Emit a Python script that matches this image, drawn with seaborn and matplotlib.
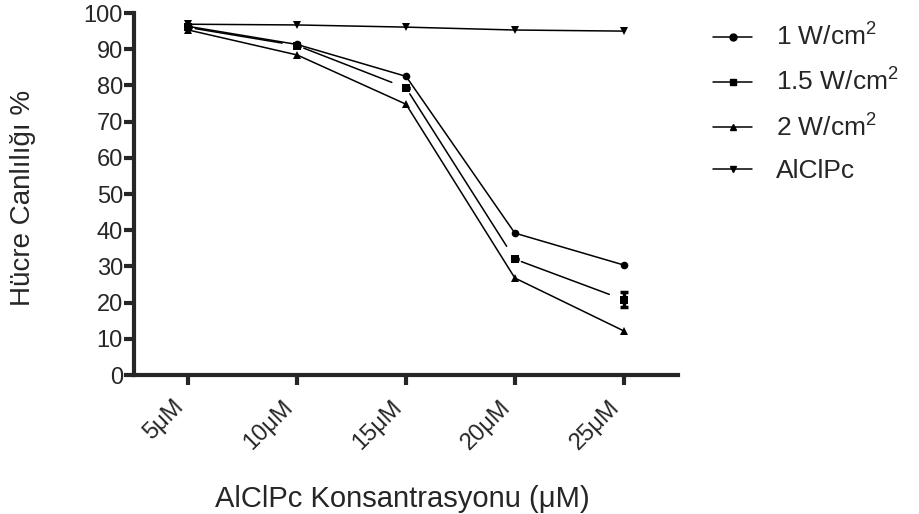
import pandas as pd
import matplotlib
matplotlib.use("Agg")
import matplotlib.pyplot as plt
import seaborn as sns
from matplotlib.lines import Line2D

# DATA
concentrations = ["5\u03bcM", "10\u03bcM", "15\u03bcM", "20\u03bcM", "25\u03bcM"]
w1 = [96.3, 91.3, 82.5, 39.2, 30.4]
w15 = [96.0, 91.0, 79.3, 32.0, 20.8]
w15_err = [0.0, 0.0, 0.0, 0.0, 2.0]
w2 = [95.3, 88.4, 74.8, 26.8, 12.2]
alclpc = [96.9, 96.7, 96.1, 95.3, 95.0]

labels = ["1 W/cm$^2$", "1.5 W/cm$^2$", "2 W/cm$^2$", "AlClPc"]

sns.set_style("ticks")
plt.rcParams["font.family"] = ["Liberation Sans", "DejaVu Sans"]
plt.rcParams["mathtext.fontset"] = "custom"
plt.rcParams["mathtext.rm"] = "Liberation Sans"
plt.rcParams["mathtext.it"] = "Liberation Sans"

x = list(range(len(concentrations)))
df = pd.concat([
    pd.DataFrame({"x": x, "y": w1, "series": labels[0]}),
    pd.DataFrame({"x": x, "y": w2, "series": labels[2]}),
    pd.DataFrame({"x": x, "y": alclpc, "series": labels[3]}),
])

fig = plt.figure(figsize=(9.2, 5.14), dpi=100)
ax = fig.add_axes([0.1457, 0.2704, 0.5913, 0.7043])

sns.lineplot(
    data=df, x="x", y="y", style="series",
    markers={labels[0]: "o", labels[2]: "^", labels[3]: "v"},
    dashes=False, color="black", linewidth=1.1, markersize=5.5,
    markeredgewidth=0, legend=False, ax=ax
)

# 1.5 W/cm2: markers plus connecting segments with small gaps at the points
sns.scatterplot(x=x, y=w15, marker="s", color="black", s=40, linewidth=0, ax=ax, zorder=3)
for i in range(len(x) - 1):
    ax.annotate(
        "", xy=(x[i + 1], w15[i + 1]), xytext=(x[i], w15[i]),
        arrowprops=dict(arrowstyle="-", color="black", lw=1.1, shrinkA=5, shrinkB=11)
    )
ax.errorbar(x, w15, yerr=w15_err, fmt="none", ecolor="black", elinewidth=2.5, capsize=3, capthick=2.5)

ax.set_xlim(-0.5, 4.5)
ax.set_ylim(0, 100)
ax.set_yticks(range(0, 101, 10))
ax.set_xticks(x)
ax.set_xticklabels(concentrations, rotation=45, ha="right", fontsize=17)
ax.tick_params(axis="y", labelsize=17, width=3, length=7, pad=1)
ax.tick_params(axis="x", width=3, length=7, pad=8)
ax.set_xlabel("AlClPc Konsantrasyonu (\u03bcM)", fontsize=21)
ax.set_ylabel("H\u00fccre Canl\u0131l\u0131\u011f\u0131 %", fontsize=20)
ax.xaxis.set_label_coords(0.494, -0.305)
ax.yaxis.set_label_coords(-0.18, 0.49)
for s in ["left", "bottom"]:
    ax.spines[s].set_linewidth(3)
sns.despine(ax=ax)

handles = [
    Line2D([], [], color="black", lw=1.1, marker="o", markersize=5),
    Line2D([], [], color="black", lw=1.1, marker="s", markersize=5),
    Line2D([], [], color="black", lw=1.1, marker="^", markersize=5),
    Line2D([], [], color="black", lw=1.1, marker="v", markersize=5),
]
fig.legend(handles, labels, loc="upper left", bbox_to_anchor=(0.749, 1.0),
           frameon=False, fontsize=19, handlelength=1.5, labelspacing=0.68,
           handletextpad=0.9)

plt.savefig("out.png", dpi=100)
